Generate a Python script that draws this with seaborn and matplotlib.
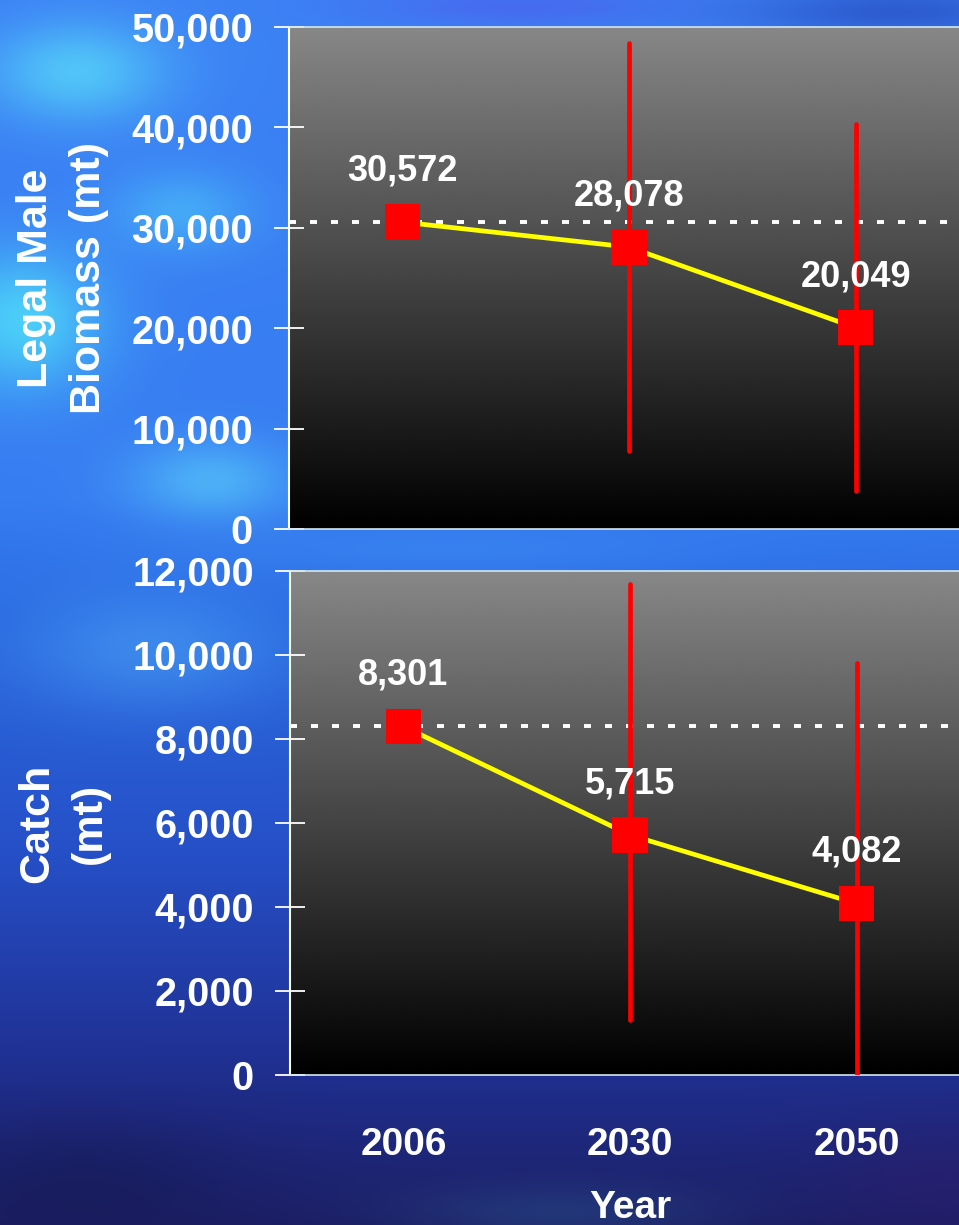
import numpy as np
import pandas as pd
import matplotlib
matplotlib.use("Agg")
import matplotlib.pyplot as plt
from matplotlib.ticker import StrMethodFormatter, FixedLocator
import seaborn as sns

# ---- data -------------------------------------------------------------
years = ["2006", "2030", "2050"]
biomass = [30572, 28078, 20049]
biomass_low = [30572, 7800, 3800]
biomass_high = [30572, 48400, 40300]
catch = [8301, 5715, 4082]
catch_low = [8301, 1300, 0]
catch_high = [8301, 11700, 9800]
biomass_ticks = [0, 10000, 20000, 30000, 40000, 50000]
catch_ticks = [0, 2000, 4000, 6000, 8000, 10000, 12000]

sns.set_theme(style="white")
plt.rcParams["font.family"] = ["Liberation Sans", "DejaVu Sans"]
plt.rcParams["font.weight"] = "bold"

W, H = 959, 1225
fig = plt.figure(figsize=(W / 100, H / 100), dpi=100)


# ---- slide background -------------------------------------------------
def slide_background(w=240, h=306):
    ys = np.linspace(0, H, h)[:, None]
    xs = np.linspace(0, W, w)[None, :]
    stops_y = [0, 500, 620, 850, 1050, 1225]
    stops_c = np.array([
        [60, 130, 245], [55, 125, 242], [42, 105, 225],
        [38, 80, 200], [32, 50, 150], [28, 30, 100]], float)
    yy = np.broadcast_to(ys, (h, w))
    img = np.stack([np.interp(yy, stops_y, stops_c[:, k]) for k in range(3)], -1)
    blobs = [
        ((90, 225, 250), 75, 70, 90, 50, 0.7),
        ((80, 225, 250), 20, 320, 80, 70, 0.8),
        ((80, 210, 250), 180, 210, 70, 40, 0.5),
        ((90, 210, 250), 210, 480, 80, 40, 0.6),
        ((80, 170, 250), 150, 650, 130, 60, 0.5),
        ((60, 140, 245), 450, 550, 250, 25, 0.5),
        ((85, 75, 230), 520, 5, 160, 20, 0.4),
        ((30, 55, 170), 900, 10, 160, 25, 0.5),
        ((45, 95, 150), 560, 1215, 160, 30, 0.35),
        ((45, 30, 110), 950, 1180, 120, 60, 0.5),
        ((20, 25, 80), 80, 1180, 150, 60, 0.5),
    ]
    for col, cx, cy, sx, sy, a in blobs:
        wgt = a * np.exp(-((xs - cx) ** 2 / sx ** 2 + (ys - cy) ** 2 / sy ** 2))
        img = img * (1 - wgt[..., None]) + np.array(col, float) * wgt[..., None]
    return np.clip(img / 255, 0, 1)


bg = fig.add_axes([0, 0, 1, 1], zorder=-10)
bg.imshow(slide_background(), aspect="auto", extent=[0, 1, 0, 1],
          interpolation="bilinear")
bg.axis("off")


def px_box(left, top, right, bottom):
    return [left / W, 1 - bottom / H, (right - left) / W, (bottom - top) / H]


def gray_panel(box):
    g = fig.add_axes(box, zorder=-5)
    ramp = np.linspace(0.53, 0.0, 256)[:, None]
    g.imshow(ramp, cmap="gray", vmin=0, vmax=1, aspect="auto",
             extent=[0, 1, 0, 1], interpolation="bilinear")
    g.axis("off")


def draw_panel(box, values, low, high, ymax, ticks, ylabel):
    gray_panel(box)
    ax = fig.add_axes(box, zorder=0)
    ax.patch.set_alpha(0)
    df = pd.DataFrame({"year": years, "value": values})

    ax.axhline(values[0], color="white", lw=2.8, dashes=(1.8, 3.6),
               dash_capstyle="butt", zorder=1)
    sns.lineplot(data=df, x="year", y="value", color="#ffff00", lw=3.4,
                 ax=ax, zorder=2, sort=False)
    bars = ax.vlines(df["year"], low, high, color="#ff0000", lw=3.4, zorder=3)
    bars.set_capstyle("round")
    sns.scatterplot(data=df, x="year", y="value", marker="s", s=25.5 ** 2,
                    color="#ff0000", edgecolor="none", linewidth=0, ax=ax,
                    zorder=4)
    for i, v in enumerate(values):
        ax.annotate(f"{v:,}", xy=(i, v), xytext=(0, 30),
                    textcoords="offset points", ha="center", va="baseline",
                    color="white", fontsize=26, fontweight="bold", zorder=5)

    ax.set_xlim(-0.5, 2.5)
    ax.set_ylim(0, ymax)
    ax.yaxis.set_major_locator(FixedLocator(ticks))
    ax.yaxis.set_major_formatter(StrMethodFormatter("{x:,.0f}"))
    ax.tick_params(axis="y", direction="inout", length=21, width=1.3,
                   color="white", labelcolor="white", labelsize=28.5,
                   pad=15.5, left=True)
    ax.tick_params(axis="x", length=0, labelcolor="white", labelsize=28,
                   pad=37.5)
    for lab in ax.get_yticklabels() + ax.get_xticklabels():
        lab.set_fontweight("bold")
    for side in ("top", "bottom"):
        ax.spines[side].set_color("#d4e6f4")
        ax.spines[side].set_linewidth(1.2)
    ax.spines["left"].set_color("white")
    ax.spines["left"].set_linewidth(1.5)
    ax.spines["right"].set_visible(False)
    ax.grid(False)

    ax.set_ylabel(ylabel, color="white", fontsize=31, fontweight="bold",
                  linespacing=1.4, multialignment="center")
    ax.yaxis.label.set_va("center")
    ax.yaxis.label.set_ha("center")
    ax.yaxis.set_label_coords(-0.333, 0.5)
    return ax


top = draw_panel(px_box(289, 27, 969, 529), biomass, biomass_low,
                 biomass_high, 50000, biomass_ticks, "Legal Male\nBiomass (mt)")
top.set_xlabel("")
top.tick_params(axis="x", labelbottom=False)

bottom = draw_panel(px_box(290, 571, 970, 1075), catch, catch_low,
                    catch_high, 12000, catch_ticks, "Catch\n(mt)")
bottom.set_xlabel("Year", color="white", fontsize=28, fontweight="bold")
bottom.xaxis.label.set_va("top")
bottom.xaxis.set_label_coords(0.5, -0.228)

fig.savefig("out.png", dpi=100)
